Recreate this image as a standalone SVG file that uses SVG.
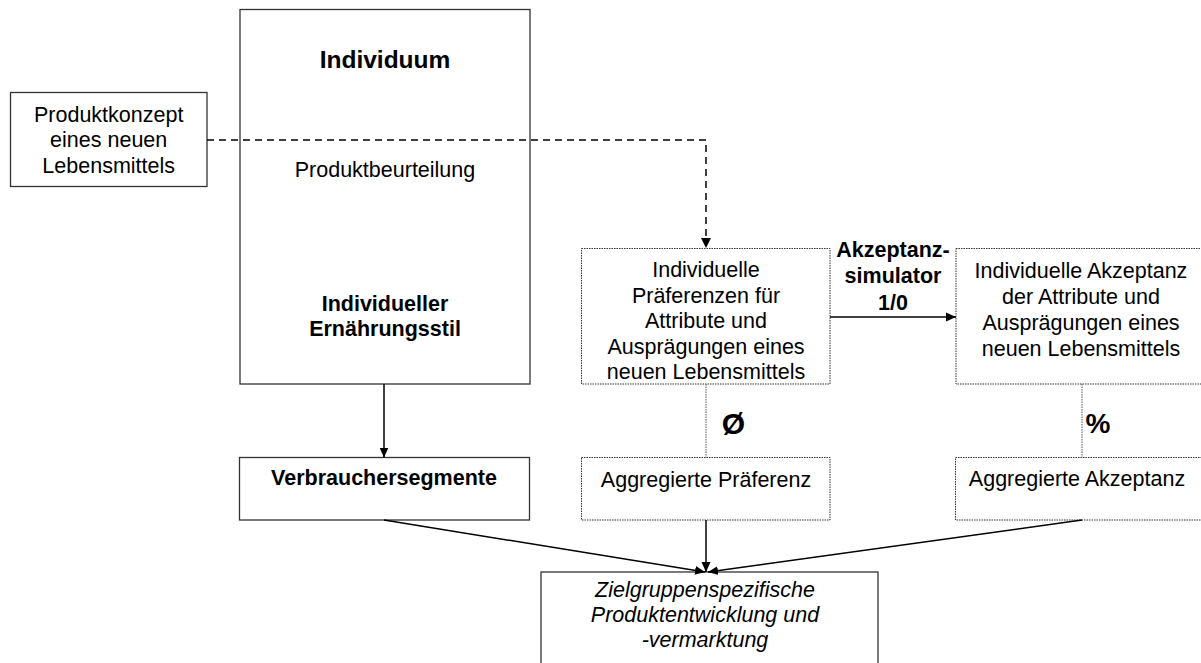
<svg xmlns="http://www.w3.org/2000/svg" width="1201" height="663" viewBox="0 0 1201 663">
<defs>
<marker id="ah" markerWidth="10" markerHeight="10" refX="10" refY="5" orient="auto" markerUnits="userSpaceOnUse">
<path d="M0,0.5 L10,5 L0,9.5 Z" fill="#000"/>
</marker>
<style>
.solid{fill:#fff;stroke:#333;stroke-width:1.3}
.dot{fill:#fff;stroke:#333;stroke-width:1;stroke-dasharray:1.5,1}
text{font-family:"Liberation Sans",Arial,sans-serif;font-size:21.5px;fill:#000;text-anchor:middle}
.b{font-weight:bold}
.i{font-style:italic}
.conn{stroke:#000;stroke-width:1.5;fill:none}
.dash{stroke:#000;stroke-width:1.5;fill:none;stroke-dasharray:7,5}
.dline{stroke:#555;stroke-width:1;fill:none;stroke-dasharray:1.5,1}
</style>
</defs>
<rect width="1201" height="663" fill="#fff"/>

<g id="individuum">
<rect class="solid" x="240" y="9.5" width="290" height="374.5"/>
<text class="b" x="385" y="68" style="font-size:24.5px">Individuum</text>
<text x="385" y="177">Produktbeurteilung</text>
<text class="b" x="385" y="311">Individueller</text>
<text class="b" x="385" y="335.5">Ernährungsstil</text>
</g>

<g id="produktkonzept">
<rect class="solid" x="10.5" y="92.5" width="196.5" height="94"/>
<text x="108.7" y="121.5">Produktkonzept</text>
<text x="108.7" y="147">eines neuen</text>
<text x="108.7" y="172.5">Lebensmittels</text>
</g>

<g id="verbrauchersegmente">
<rect class="solid" x="239.5" y="457.5" width="290" height="62.5"/>
<text class="b" x="384" y="485">Verbrauchersegmente</text>
</g>

<g id="praeferenzen">
<rect class="dot" x="581.5" y="248.5" width="248.5" height="135.5"/>
<text x="706" y="277">Individuelle</text>
<text x="706" y="302.5">Präferenzen für</text>
<text x="706" y="328">Attribute und</text>
<text x="706" y="353.5">Ausprägungen eines</text>
<text x="706" y="379">neuen Lebensmittels</text>
</g>

<g id="akzeptanz">
<rect class="dot" x="956" y="248.5" width="250" height="135.5"/>
<text x="1081" y="278">Individuelle Akzeptanz</text>
<text x="1081" y="303.5">der Attribute und</text>
<text x="1081" y="329.5">Ausprägungen eines</text>
<text x="1081" y="355.5">neuen Lebensmittels</text>
</g>

<g id="agg-praeferenz">
<rect class="dot" x="581.5" y="457.5" width="248.5" height="62.5"/>
<text x="706" y="487">Aggregierte Präferenz</text>
</g>

<g id="agg-akzeptanz">
<rect class="dot" x="955.5" y="457.5" width="250" height="62.5"/>
<text x="1077" y="486">Aggregierte Akzeptanz</text>
</g>

<g id="zielgruppe">
<rect class="solid" x="541" y="572" width="337" height="100"/>
<text class="i" x="705" y="597">Zielgruppenspezifische</text>
<text class="i" x="705" y="622">Produktentwicklung und</text>
<text class="i" x="705" y="647">-vermarktung</text>
</g>

<g id="connectors">
<path class="dash" d="M207,140 H706 V238" />
<path d="M701,238 L706,248 L711,238 Z" fill="#000"/>
<line class="conn" x1="830" y1="317" x2="956" y2="317" marker-end="url(#ah)"/>
<line class="conn" x1="384" y1="384" x2="384" y2="457.5" marker-end="url(#ah)"/>
<line class="dline" x1="706" y1="384" x2="706" y2="457.5"/>
<line class="dline" x1="1082" y1="384" x2="1082" y2="457.5"/>
<line class="conn" x1="384" y1="520" x2="705" y2="572" marker-end="url(#ah)"/>
<line class="conn" x1="706" y1="520" x2="706" y2="572" marker-end="url(#ah)"/>
<line class="conn" x1="1082" y1="520" x2="708" y2="572" marker-end="url(#ah)"/>
<text class="b" x="893" y="256.5">Akzeptanz-</text>
<text class="b" x="893" y="283">simulator</text>
<text class="b" x="893" y="309.5">1/0</text>
<text class="b" x="733.5" y="433.5" style="font-size:30px">Ø</text>
<text class="b" x="1098" y="433" style="font-size:28px">%</text>
</g>
</svg>
